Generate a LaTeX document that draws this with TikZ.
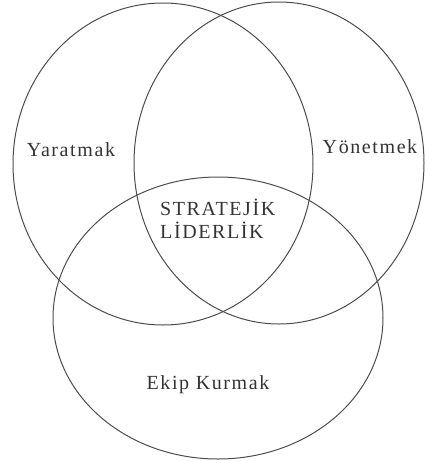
\documentclass[tikz,border=0pt]{standalone}
\usepackage{fontspec}
\setmainfont[LetterSpace=8]{Liberation Serif}
\begin{document}
\begin{tikzpicture}[x=1pt,y=-1pt,
  venn/.style={draw=black!70,line width=1pt},
  lbl/.style={inner sep=0pt,text=black!80,font=\fontsize{20}{24}\selectfont}]
\useasboundingbox (0,0) rectangle (424,461);
\draw[venn] (163,164) ellipse [x radius=150, y radius=161];
\draw[venn] (279,163) ellipse [x radius=145, y radius=161];
\draw[venn] (218,318) ellipse [x radius=165, y radius=141];
\node[lbl] (yar) at (71,150) {Yaratmak};
\node[lbl] (yon) at (370,147) {Yönetmek};
\node[lbl,align=left,anchor=west,font=\fontsize{20}{23}\selectfont] (sl) at (160,219) {STRATEJİK\\LİDERLİK};
\node[lbl] (ek) at (208,385) {Ekip Kurmak};
\end{tikzpicture}
\end{document}
